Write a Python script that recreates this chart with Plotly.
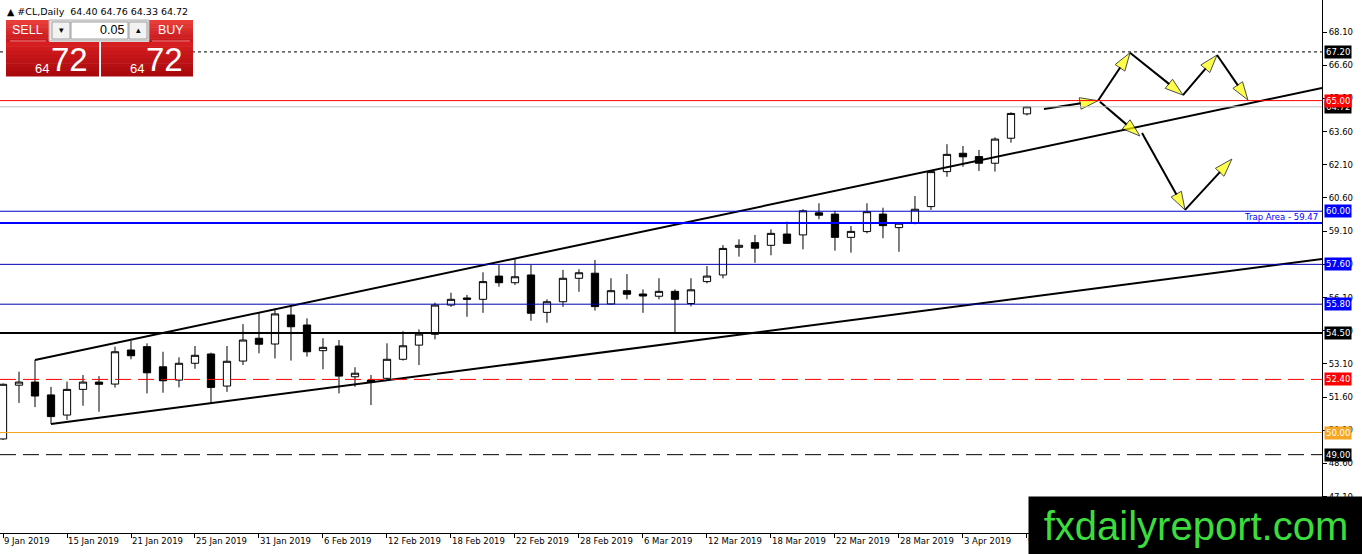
import datetime as dt
import plotly.graph_objects as go

# ---------------- data ----------------
dates = [
    "2019-01-09", "2019-01-10", "2019-01-11", "2019-01-14", "2019-01-15", "2019-01-16", "2019-01-17",
    "2019-01-18", "2019-01-21", "2019-01-22", "2019-01-23", "2019-01-24", "2019-01-25", "2019-01-28",
    "2019-01-29", "2019-01-30", "2019-01-31", "2019-02-01", "2019-02-04", "2019-02-05", "2019-02-06",
    "2019-02-07", "2019-02-08", "2019-02-11", "2019-02-12", "2019-02-13", "2019-02-14", "2019-02-15",
    "2019-02-18", "2019-02-19", "2019-02-20", "2019-02-21", "2019-02-22", "2019-02-25", "2019-02-26",
    "2019-02-27", "2019-02-28", "2019-03-01", "2019-03-04", "2019-03-05", "2019-03-06", "2019-03-07",
    "2019-03-08", "2019-03-11", "2019-03-12", "2019-03-13", "2019-03-14", "2019-03-15", "2019-03-18",
    "2019-03-19", "2019-03-20", "2019-03-21", "2019-03-22", "2019-03-25", "2019-03-26", "2019-03-27",
    "2019-03-28", "2019-03-29", "2019-04-01", "2019-04-02", "2019-04-03", "2019-04-04", "2019-04-05",
    "2019-04-08", "2019-04-09",
]
opens = [49.71, 52.14, 52.28, 51.70, 50.79, 51.95, 52.28, 52.19, 53.73, 53.88, 52.97, 52.37, 53.13,
         53.55, 52.10, 53.23, 54.26, 54.00, 55.31, 54.86, 53.70, 53.91, 52.52, 52.37, 52.45, 53.31,
         53.95, 54.44, 55.76, 56.08, 56.02, 57.07, 56.77, 57.12, 55.43, 55.91, 56.97, 57.20, 55.81,
         56.41, 56.26, 56.16, 56.38, 55.83, 56.82, 57.12, 58.37, 58.58, 58.46, 58.97, 58.93, 59.93,
         59.87, 58.82, 59.08, 59.87, 59.26, 59.46, 60.21, 61.79, 62.62, 62.47, 62.17, 63.30, 64.40]
highs = [52.22, 52.75, 53.28, 52.06, 52.30, 52.60, 52.55, 53.88, 54.15, 54.03, 53.65, 53.40, 53.91,
         53.61, 53.91, 54.90, 55.39, 55.61, 55.76, 55.16, 54.26, 54.18, 52.95, 52.60, 54.03, 54.58,
         54.66, 55.87, 56.32, 56.22, 57.24, 57.57, 57.87, 57.57, 56.02, 57.35, 57.38, 57.80, 56.97,
         57.16, 56.47, 56.97, 56.47, 56.97, 57.52, 58.47, 58.73, 58.93, 59.18, 59.53, 60.09, 60.36,
         60.02, 59.33, 60.36, 60.16, 59.51, 60.69, 61.86, 63.03, 62.95, 62.77, 63.34, 64.47, 64.76]
lows = [49.66, 51.34, 51.15, 50.39, 50.57, 51.21, 50.94, 52.03, 53.31, 51.77, 51.80, 52.04, 52.88,
        51.32, 51.84, 53.05, 53.58, 53.35, 53.25, 53.43, 52.86, 51.77, 52.07, 51.24, 52.37, 53.25,
        53.05, 54.21, 55.68, 55.23, 55.41, 56.59, 56.67, 55.05, 54.96, 55.68, 56.36, 55.51, 55.78,
        56.02, 55.41, 56.02, 54.48, 55.70, 56.74, 56.97, 57.95, 57.67, 58.01, 58.54, 58.28, 59.64,
        58.22, 58.13, 59.00, 58.78, 58.17, 59.41, 60.06, 61.56, 62.01, 61.82, 61.79, 63.10, 64.33]
closes = [52.18, 52.28, 51.65, 50.72, 51.95, 52.28, 52.18, 53.65, 53.47, 52.70, 52.34, 53.13, 53.49,
          52.04, 53.22, 54.18, 53.99, 55.36, 54.78, 53.65, 53.85, 52.55, 52.68, 52.28, 53.31, 53.92,
          54.45, 55.76, 56.02, 56.02, 56.82, 56.77, 57.04, 55.39, 55.91, 56.97, 57.22, 55.69, 56.41,
          56.25, 56.17, 56.38, 56.02, 56.45, 57.07, 58.32, 58.46, 58.33, 59.00, 58.55, 60.02, 59.82,
          58.82, 59.09, 59.98, 59.35, 59.46, 60.09, 61.79, 62.57, 62.46, 62.17, 63.26, 64.42, 64.72]

y_ticks = [47.10, 48.60, 50.10, 51.60, 53.10, 54.60, 56.10, 57.60, 59.10, 60.60, 62.10, 63.60, 65.10,
           66.60, 68.10]

# horizontal price levels
level_dotted = 67.20
level_red = 65.00
bid_price = 64.72
level_blue_top = 60.00
trap_level = 59.47
level_blue_mid = 57.60
level_blue_low = 55.80
level_black = 54.50
level_red_dash = 52.40
level_orange = 50.00
level_black_dash = 49.00

# trend lines (bar index, price)
upper_trend_x = [2, 82.44]
upper_trend_y = [53.28, 65.57]
lower_trend_x = [3, 82.44]
lower_trend_y = [50.39, 57.84]

# projected-path arrows (bar index, price), start -> end
arrow_x0 = [65.06, 68.44, 70.44, 73.75, 75.88, 68.56, 71.19, 73.88]
arrow_y0 = [64.62, 64.995, 67.16, 65.25, 67.06, 64.95, 63.54, 60.06]
arrow_x1 = [68.44, 70.44, 73.75, 75.88, 77.81, 71.06, 73.88, 76.81]
arrow_y1 = [64.995, 67.16, 65.25, 67.06, 65.03, 63.40, 60.06, 62.36]

title_text = "#CL,Daily  64.40 64.76 64.33 64.72"
lot_size = "0.05"
sell_big, sell_small = "72", "64"
buy_big, buy_small = "72", "64"
watermark = "fxdailyreport.com"
trap_text = "Trap Area - 59.47"

# ---------------- figure ----------------
W_PLOT, H_PLOT = 1322, 533
idx = list(range(len(dates)))
tick_idx = idx[::4]
tick_text = []
for i in tick_idx:
    d = dt.date.fromisoformat(dates[i])
    tick_text.append(f"{d.day} {d.strftime('%b')} {d.year}")

fig = go.Figure()
fig.add_trace(go.Candlestick(
    x=idx, open=opens, high=highs, low=lows, close=closes,
    increasing=dict(line=dict(color="black", width=1), fillcolor="white"),
    decreasing=dict(line=dict(color="black", width=1), fillcolor="black"),
    whiskerwidth=0, showlegend=False, hoverinfo="skip",
))

for xs, ys in [(upper_trend_x, upper_trend_y), (lower_trend_x, lower_trend_y)]:
    fig.add_trace(go.Scatter(x=xs, y=ys, mode="lines", line=dict(color="black", width=2),
                             showlegend=False, hoverinfo="skip"))

for x0, y0, x1, y1 in zip(arrow_x0, arrow_y0, arrow_x1, arrow_y1):
    fig.add_trace(go.Scatter(
        x=[x0, x1], y=[y0, y1], mode="lines+markers",
        line=dict(color="black", width=2),
        marker=dict(symbol="arrow", size=[0, 19], angleref="previous", color="#ffff00",
                    line=dict(color="black", width=1)),
        showlegend=False, hoverinfo="skip",
    ))

shapes = []


def hline(y, color, width=1, dash="solid"):
    shapes.append(dict(type="line", xref="paper", x0=0, x1=1, yref="y", y0=y, y1=y,
                       line=dict(color=color, width=width, dash=dash), layer="above"))


hline(level_dotted, "black", 1, "3px,3px")
hline(bid_price, "#c0c0c0", 1)
hline(level_red, "#ff0000", 1)
hline(level_blue_top, "#0000cc", 1)
hline(trap_level, "#0000ff", 2)
hline(level_blue_mid, "#0000b4", 1)
hline(level_blue_low, "#0000b4", 1)
hline(level_black, "black", 2)
hline(level_red_dash, "#ff0000", 1, "16px,7px")
hline(level_orange, "#f2a81d", 1)
hline(level_black_dash, "black", 1, "16px,7px")


def prect(x0, y0, x1, y1, fill, lc=None, lw=0):
    shapes.append(dict(type="rect", xref="paper", yref="paper",
                       x0=x0 / W_PLOT, x1=x1 / W_PLOT, y0=1 - y1 / H_PLOT, y1=1 - y0 / H_PLOT,
                       fillcolor=fill, line=dict(color=lc or fill, width=lw), layer="above"))


def grad_rect(x0, y0, x1, y1, c_top, c_bot, n=8):
    h = (y1 - y0) / n
    for k in range(n):
        t = k / (n - 1)
        c = tuple(round(a + (b - a) * t) for a, b in zip(c_top, c_bot))
        prect(x0, y0 + k * h, x1, y0 + (k + 1) * h + 0.4, "rgb(%d,%d,%d)" % c)


# trade panel
grad_rect(6, 20, 49, 42, (232, 62, 58), (200, 24, 28), 6)
grad_rect(149, 20, 193, 42, (232, 62, 58), (200, 24, 28), 6)
grad_rect(6, 42, 99, 76, (214, 30, 32), (170, 10, 14), 8)
grad_rect(101, 42, 193, 76, (214, 30, 32), (170, 10, 14), 8)
prect(49, 20, 149, 41, "#e6e6e6", "#b0b0b0", 1)
prect(52, 22, 70, 39, "#f2f2f2", "#a0a0a0", 1)
prect(71, 22, 128, 39, "white", "#a0a0a0", 1)
prect(129, 22, 147, 39, "#f2f2f2", "#a0a0a0", 1)
shapes.append(dict(type="line", xref="paper", yref="paper", x0=10 / W_PLOT, x1=46 / W_PLOT,
                   y0=1 - 41 / H_PLOT, y1=1 - 41 / H_PLOT, line=dict(color="#f08080", width=1),
                   layer="above"))
shapes.append(dict(type="line", xref="paper", yref="paper", x0=152 / W_PLOT, x1=190 / W_PLOT,
                   y0=1 - 41 / H_PLOT, y1=1 - 41 / H_PLOT, line=dict(color="#f08080", width=1),
                   layer="above"))

annotations = []

AX_FONT = "DejaVu Sans"


def price_label(v, bg):
    annotations.append(dict(x=1, xref="paper", xanchor="left", xshift=2, y=v, yref="y",
                            yanchor="middle", text=f"{v:.2f}", showarrow=False, bgcolor=bg,
                            borderpad=1, font=dict(family=AX_FONT, size=8.5, color="white")))


price_label(level_dotted, "black")
price_label(bid_price, "black")
price_label(level_red, "#ff0000")
price_label(level_blue_top, "#0000ff")
price_label(level_blue_mid, "#0000ff")
price_label(level_blue_low, "#0000ff")
price_label(level_black, "black")
price_label(level_red_dash, "#ff0000")
price_label(level_orange, "#f5a623")
price_label(level_black_dash, "black")

annotations.append(dict(x=1, xref="paper", xanchor="right", xshift=-2, y=trap_level, yref="y",
                        yanchor="bottom", yshift=-1, text=trap_text, showarrow=False,
                        font=dict(family=AX_FONT, size=8.5, color="#0000ff")))


def ptext(x, y, text, size, color="white", anchor="center", family="Liberation Sans"):
    annotations.append(dict(x=x / W_PLOT, y=1 - y / H_PLOT, xref="paper", yref="paper",
                            xanchor=anchor, yanchor="middle", text=text, showarrow=False,
                            font=dict(family=family, size=size, color=color)))


ptext(5, 11, "\u25B2 " + title_text, 9.5, "black", "left", AX_FONT)
ptext(27.5, 30.5, "SELL", 12.5)
ptext(171, 30.5, "BUY", 12.5)
ptext(126, 30.5, lot_size, 12.5, "black", "right")
ptext(61, 30.5, "\u25BE", 9, "black")
ptext(138, 30.5, "\u25B4", 9, "black")
ptext(41.5, 68, sell_small, 13)
ptext(69, 60, sell_big, 33)
ptext(136.5, 68, buy_small, 13)
ptext(164, 60, buy_big, 33)

annotations.append(dict(x=1028 / W_PLOT, y=1 - 496 / H_PLOT, xref="paper", yref="paper",
                        xanchor="left", yanchor="top", width=334, height=58, borderpad=0,
                        bgcolor="black", text=watermark, showarrow=False, align="center",
                        font=dict(family="Liberation Sans", size=40, color="#3ddc3d")))

fig.update_layout(
    width=1362, height=554,
    margin=dict(l=0, r=40, t=0, b=21),
    paper_bgcolor="white", plot_bgcolor="white",
    showlegend=False, boxgap=0.35,
    shapes=shapes, annotations=annotations,
    xaxis=dict(range=[-0.1875, 82.44], rangeslider=dict(visible=False), showgrid=False,
               zeroline=False, tickmode="array", tickvals=tick_idx, ticktext=tick_text,
               ticks="outside", ticklen=4, tickcolor="black", showline=True, linecolor="black",
               linewidth=1, ticklabelposition="outside right",
               tickfont=dict(family=AX_FONT, size=8.5, color="black")),
    yaxis=dict(range=[45.46, 69.546], side="right", showgrid=False, zeroline=False,
               tickmode="array", tickvals=y_ticks, ticktext=[f"{v:.2f}" for v in y_ticks],
               ticks="outside", ticklen=4, tickcolor="black", showline=True, linecolor="black",
               linewidth=1, mirror=True,
               tickfont=dict(family=AX_FONT, size=8.5, color="black")),
)

fig.write_html(
    "out.html",
    config={"displayModeBar": False},
    post_script="document.body.style.margin='0';document.body.style.overflow='hidden';",
)
